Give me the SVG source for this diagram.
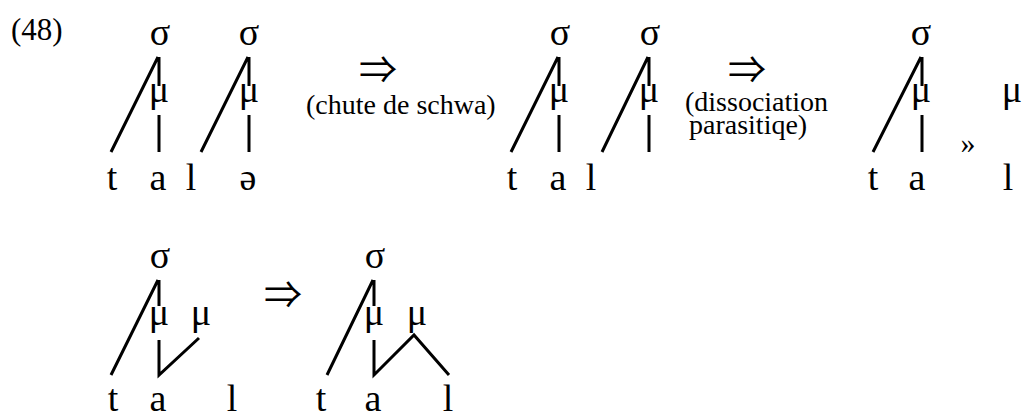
<svg xmlns="http://www.w3.org/2000/svg" width="1024" height="416" viewBox="0 0 1024 416">
<style>
.t{font-family:"Liberation Serif","Times New Roman",serif;font-size:38px;fill:#000;text-anchor:middle}
.n{font-family:"Liberation Serif","Times New Roman",serif;font-size:31px;fill:#000}
.lb{font-family:"Liberation Serif","Times New Roman",serif;font-size:28px;fill:#000}
.ar{font-family:"Noto Sans CJK JP","DejaVu Sans",sans-serif;font-size:38px;fill:#000;text-anchor:middle}
.q{font-family:"Liberation Serif",serif;font-size:30px;fill:#000;text-anchor:middle}
.e{stroke:#000;stroke-width:3;fill:none}
</style>
<rect width="1024" height="416" fill="#fff"/>
<text id="num" class="n" x="11" y="40">(48)</text>

<g id="tree1">
<text class="t" x="160" y="45">σ</text>
<text class="t" x="159" y="102">μ</text>
<text class="t" x="112" y="190">t</text>
<text class="t" x="158" y="190">a</text>
<text class="t" x="191" y="190">l</text>
</g>
<g id="tree2">
<text class="t" x="249" y="45">σ</text>
<text class="t" x="249" y="102">μ</text>
<text class="t" x="248" y="190">ə</text>
</g>
<g id="arrow1">
<text class="ar" x="378" y="83">⇒</text>
<text class="lb" x="306" y="114">(chute de schwa)</text>
</g>
<g id="tree3">
<text class="t" x="560" y="45">σ</text>
<text class="t" x="559" y="102">μ</text>
<text class="t" x="512" y="190">t</text>
<text class="t" x="558" y="190">a</text>
<text class="t" x="591" y="190">l</text>
</g>
<g id="tree4">
<text class="t" x="650" y="45">σ</text>
<text class="t" x="649" y="102">μ</text>
</g>
<g id="arrow2">
<text class="ar" x="747" y="83">⇒</text>
<text class="lb" x="685" y="111">(dissociation</text>
<text class="lb" x="689" y="134">parasitiqe)</text>
</g>
<g id="tree5">
<text class="t" x="921" y="45">σ</text>
<text class="t" x="921" y="102">μ</text>
<text class="t" x="1012" y="102">μ</text>
<text class="q" x="968" y="153">»</text>
<text class="t" x="873" y="190">t</text>
<text class="t" x="917" y="190">a</text>
<text class="t" x="1008" y="190">l</text>
</g>
<g id="tree6">
<text class="t" x="160" y="268">σ</text>
<text class="t" x="159" y="325">μ</text>
<text class="t" x="201" y="325">μ</text>
<text class="t" x="113" y="411">t</text>
<text class="t" x="158" y="411">a</text>
<text class="t" x="232" y="411">l</text>
</g>
<g id="arrow3">
<text class="ar" x="283" y="308">⇒</text>
</g>
<g id="tree7">
<text class="t" x="375" y="268">σ</text>
<text class="t" x="374" y="325">μ</text>
<text class="t" x="417" y="325">μ</text>
<text class="t" x="321" y="411">t</text>
<text class="t" x="373" y="411">a</text>
<text class="t" x="448" y="411">l</text>
</g>

<g id="connectors" class="e">
<path d="M111 152L158 57M159 57V86M159 115V152"/>
<path d="M201 152L248 57M249 57V86M249 115V152"/>
<path d="M511 152L558 57M559 57V86M559 115V152"/>
<path d="M602 152L648 57M649 57V86M649 115V152"/>
<path d="M873 152L921 57M922 57V86M922 115V152"/>
<path d="M111 375L158 280M159 280V306M159 340V375L199 338"/>
<path d="M327 375L373 280M374 280V306M374 340V375L414 335L449 375"/>
</g>
</svg>
